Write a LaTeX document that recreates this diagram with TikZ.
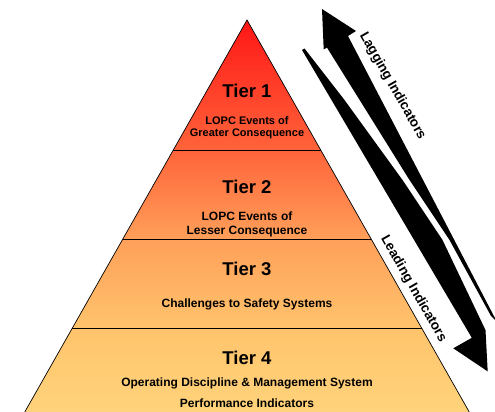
\documentclass[tikz,border=0pt]{standalone}
\usepackage{fontspec}
\setmainfont{Liberation Sans}
\definecolor{cbot}{RGB}{255,212,124}
\definecolor{cthree}{RGB}{255,196,108}
\definecolor{ctwo}{RGB}{255,160,90}
\definecolor{cone}{RGB}{255,100,58}
\definecolor{ctop}{RGB}{255,22,22}
\pgfdeclareverticalshading{pyrshade}{100bp}{color(0bp)=(cbot); color(25bp)=(cbot); color(35.9bp)=(cthree); color(47.2bp)=(ctwo); color(58.6bp)=(cone); color(75bp)=(ctop); color(100bp)=(ctop)}
\tikzset{
  head/.style={inner sep=0pt, anchor=base, font=\fontsize{18.5}{20}\selectfont\bfseries},
  sub/.style={inner sep=0pt, anchor=base, font=\fontsize{12}{14}\selectfont\bfseries},
  subone/.style={inner sep=0pt, anchor=base, font=\fontsize{11}{13}\selectfont\bfseries},
  arrlabel/.style={inner sep=0pt, rotate=-60.4, font=\fontsize{13.5}{15}\selectfont\bfseries},
  tierline/.style={line width=0.8pt, black},
  bigarrow/.style={fill=black, draw=none}
}
\begin{document}
\begin{tikzpicture}[x=1pt,y=-1pt]
\clip (0,0) rectangle (495,412);
\fill[white] (0,0) rectangle (495,412);
% pyramid
\coordinate (apex) at (247,20);
\coordinate (bl) at (22.5,416);
\coordinate (br) at (471.5,416);
\shade[shading=pyrshade] (apex) -- (bl) -- (br) -- cycle;
\draw[line width=0.7pt] (bl) -- (apex) -- (br);
\coordinate (l1) at (173.3,150); \coordinate (r1) at (320.7,150);
\coordinate (l2) at (122.8,239); \coordinate (r2) at (371.2,239);
\coordinate (l3) at (72.4,328);  \coordinate (r3) at (421.6,328);
\draw[tierline] (l1) -- (r1);
\draw[tierline] (l2) -- (r2);
\draw[tierline] (l3) -- (r3);
% texts
\node[head] (t1) at (247,97.3) {Tier 1};
\node[subone] (t1a) at (247,124) {LOPC Events of};
\node[subone] (t1b) at (247,136.7) {Greater Consequence};
\node[head] (t2) at (247,193.3) {Tier 2};
\node[sub] (t2a) at (247,220) {LOPC Events of};
\node[sub] (t2b) at (247,234) {Lesser Consequence};
\node[head] (t3) at (247,275) {Tier 3};
\node[sub] (t3a) at (247,307.5) {Challenges to Safety Systems};
\node[head] (t4) at (247,364) {Tier 4};
\node[sub] (t4a) at (247,386) {Operating Discipline \& Management System};
\node[sub] (t4b) at (247,407) {Performance Indicators};
% lagging arrow (points up-left)
\fill[bigarrow] (322,9) -- (356,31) -- (348,36) -- (497,322) -- (491,316)
  -- (449.5,240) -- (409.5,180) -- (327,47.6) -- (323.7,49.4) -- cycle;
% leading arrow (points down-right)
\fill[bigarrow] (302,50) -- (471.8,337.8) -- (453.3,348.3) -- (487.7,371.4)
  -- (485.5,330.1) -- (442.5,240) -- (402.5,180) -- (344.5,100) -- (304.5,48.5) -- cycle;
% labels
\node[arrlabel] (lag) at (392.5,86) {Lagging Indicators};
\node[arrlabel] (lead) at (413.5,289) {Leading Indicators};
\end{tikzpicture}
\end{document}
